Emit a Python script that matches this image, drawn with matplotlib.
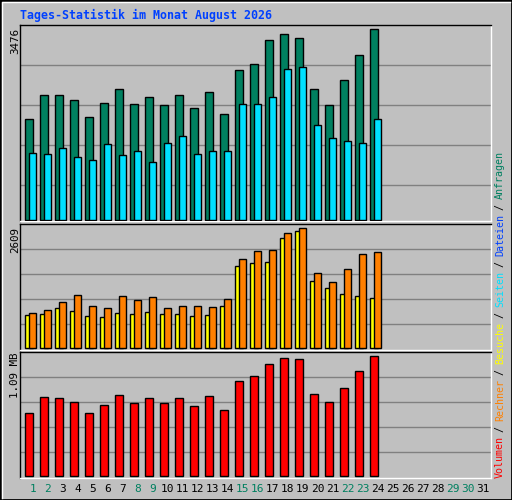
import matplotlib
matplotlib.use("Agg")
import matplotlib.pyplot as plt
from matplotlib.patches import Rectangle
from matplotlib.lines import Line2D

days = list(range(1, 32))
hits = [1836, 2273, 2273, 2182, 1872, 2127, 2383, 2109, 2237, 2091, 2273, 2036, 2328, 1927,
        2729, 2838, 3276, 3385, 3312, 2383, 2091, 2547, 3002, 3476]
files = [1216, 1198, 1307, 1143, 1088, 1380, 1180, 1252, 1052, 1398, 1526, 1198, 1252, 1252,
         2109, 2109, 2237, 2747, 2784, 1726, 1489, 1435, 1398, 1836]
visits = [717, 739, 870, 804, 696, 674, 761, 739, 783, 739, 739, 696, 717, 913,
          1783, 1848, 1870, 2392, 2544, 1457, 1304, 1174, 1131, 1087]
sites = [761, 826, 1000, 1152, 913, 870, 1131, 1044, 1109, 870, 913, 913, 891, 1065,
         1935, 2109, 2131, 2500, 2609, 1631, 1435, 1718, 2044, 2087]
volume_mb = [0.569, 0.716, 0.706, 0.670, 0.569, 0.642, 0.734, 0.661, 0.706, 0.661, 0.706, 0.633,
             0.725, 0.597, 0.862, 0.907, 1.017, 1.072, 1.063, 0.743, 0.670, 0.798, 0.953, 1.09]
weekend = [1, 2, 8, 9, 15, 16, 22, 23, 29, 30]

W, H = 512, 500
BG = "#C0C0C0"
fig = plt.figure(figsize=(W/100, H/100), dpi=100, facecolor=BG)
MONO = "DejaVu Sans Mono"

def fx(px): return px / W
def fy(py): return 1 - py / H

fig.patches.append(Rectangle((0, 0), 1, 1, transform=fig.transFigure, fill=False,
                             edgecolor="black", linewidth=2))
fig.lines.append(Line2D([fx(2), fx(2), fx(510)], [fy(498), fy(2), fy(2)],
                        transform=fig.transFigure, color="white", lw=1))

def make_ax(top, bottom):
    ax = fig.add_axes([fx(20), fy(bottom), fx(491) - fx(20), fy(top) - fy(bottom)])
    ax.set_facecolor(BG)
    ax.set_xlim(-0.333, 31.07)
    ax.set_xticks([]); ax.set_yticks([])
    for s in ax.spines.values():
        s.set_linewidth(1)
    ax.spines["left"].set_color("black"); ax.spines["top"].set_color("black")
    ax.spines["right"].set_color("white"); ax.spines["bottom"].set_color("white")
    return ax

def bars(ax, vals, off, color, scale):
    x = [d - 1 + off for d in range(1, len(vals) + 1)]
    ax.bar(x, [v * scale for v in vals], width=0.49, align="edge", color=color,
           edgecolor="black", linewidth=1, zorder=3)

ax1 = make_ax(25, 221)
s1 = 190.7 / max(hits)
ax1.set_ylim(-1, 195)
for g in [35, 75, 115, 155]:
    ax1.axhline(g, color="#808080", lw=1, zorder=1)
bars(ax1, hits, 0.02, "#008060", s1)
bars(ax1, files, 0.27, "#00E0FF", s1)

ax2 = make_ax(224, 350)
s2 = 120 / max(sites)
ax2.set_ylim(-1.7, 124.3)
for g in [24, 49, 74, 99]:
    ax2.axhline(g, color="#808080", lw=1, zorder=1)
bars(ax2, visits, 0.02, "#FFFF00", s2)
bars(ax2, sites, 0.27, "#FF8000", s2)

ax3 = make_ax(352, 478)
s3 = 119.3 / max(volume_mb)
ax3.set_ylim(-2.3, 123.7)
for g in [23.4, 48.4, 73.4, 98.4]:
    ax3.axhline(g, color="#808080", lw=1, zorder=1)
bars(ax3, volume_mb, 0.02, "#FF0000", s3)

for d in days:
    xpx = 25 + 15 * (d - 1) + 7.7
    fig.text(fx(xpx), fy(489), str(d), ha="center", va="center", family=MONO, fontsize=8,
             color="#008060" if d in weekend else "black")

fig.text(fx(20), fy(15), "Tages-Statistik im Monat August 2026", ha="left", va="center",
         family=MONO, fontsize=8.4, fontweight="bold", color="#0040FF")

fig.text(fx(15), fy(28), f"{max(hits)}", rotation=90, ha="center", va="top", family=MONO, fontsize=7.8)
fig.text(fx(15), fy(227), f"{max(sites)}", rotation=90, ha="center", va="top", family=MONO, fontsize=7.8)
fig.text(fx(15), fy(353), f"{max(volume_mb):.2f} MB", rotation=90, ha="center", va="top", family=MONO, fontsize=7.8)

segs = [("Volumen", "#FF0000"), (" / ", "black"), ("Rechner", "#FF8000"), (" / ", "black"),
        ("Besuche", "#FFFF00"), (" / ", "black"), ("Seiten", "#00E0FF"), (" / ", "black"),
        ("Dateien", "#0040FF"), (" / ", "black"), ("Anfragen", "#008060")]
cw = 5.7
y = 478
for txt, col in segs:
    fig.text(fx(500), fy(y), txt, rotation=90, ha="center", va="bottom", family=MONO,
             fontsize=7.2, color=col)
    y -= cw * len(txt)

fig.savefig("out.png", dpi=100, facecolor=BG)
